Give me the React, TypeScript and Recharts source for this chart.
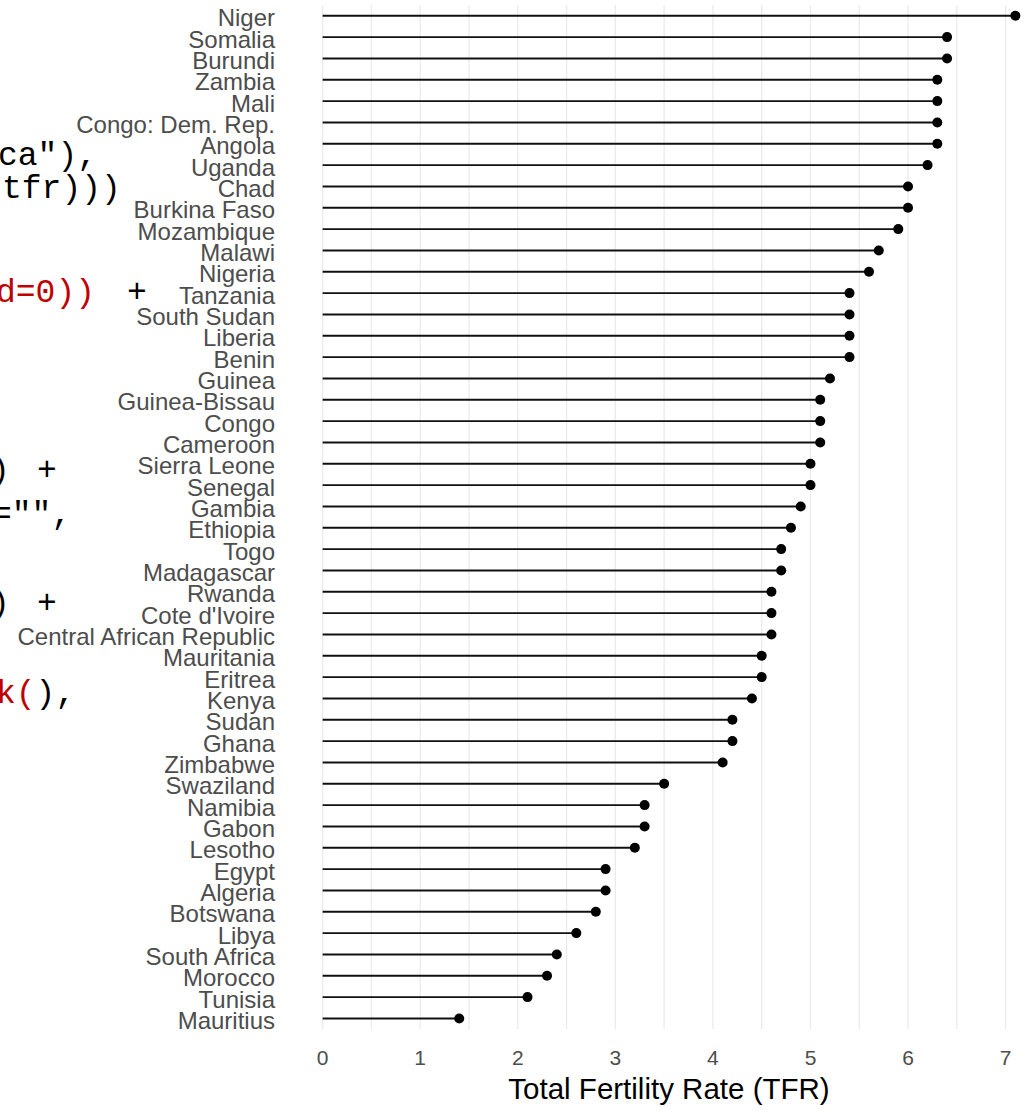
import React from "react";
import { BarChart, Bar, XAxis, YAxis, CartesianGrid, Label } from "recharts";

// countries, top to bottom
const countries = [
  "Niger", "Somalia", "Burundi", "Zambia", "Mali", "Congo: Dem. Rep.",
  "Angola", "Uganda", "Chad", "Burkina Faso", "Mozambique", "Malawi",
  "Nigeria", "Tanzania", "South Sudan", "Liberia", "Benin", "Guinea",
  "Guinea-Bissau", "Congo", "Cameroon", "Sierra Leone", "Senegal", "Gambia",
  "Ethiopia", "Togo", "Madagascar", "Rwanda", "Cote d'Ivoire",
  "Central African Republic", "Mauritania", "Eritrea", "Kenya", "Sudan",
  "Ghana", "Zimbabwe", "Swaziland", "Namibia", "Gabon", "Lesotho", "Egypt",
  "Algeria", "Botswana", "Libya", "South Africa", "Morocco", "Tunisia",
  "Mauritius",
];

const tfr = [
  7.1, 6.4, 6.4, 6.3, 6.3, 6.3,
  6.3, 6.2, 6.0, 6.0, 5.9, 5.7,
  5.6, 5.4, 5.4, 5.4, 5.4, 5.2,
  5.1, 5.1, 5.1, 5.0, 5.0, 4.9,
  4.8, 4.7, 4.7, 4.6, 4.6,
  4.6, 4.5, 4.5, 4.4, 4.2,
  4.2, 4.1, 3.5, 3.3, 3.3, 3.2, 2.9,
  2.9, 2.8, 2.6, 2.4, 2.3, 2.1,
  1.4,
];

// major + minor grid positions; only whole numbers get a label
const xTicks = [0, 0.5, 1, 1.5, 2, 2.5, 3, 3.5, 4, 4.5, 5, 5.5, 6, 6.5, 7];

const data = countries.map((country, i) => ({ country, tfr: tfr[i] }));

const Lollipop = (props: any) => {
  const { x, y, width, height } = props;
  const cy = y + height / 2;
  const end = x + width;
  return (
    <g>
      <line x1={x} y1={cy} x2={end} y2={cy} stroke="#111" strokeWidth={1.9} />
      <circle cx={end} cy={cy} r={5} fill="#000" />
    </g>
  );
};

const RED = "#c00000";

// bits of R code peeking in from the left edge of the screenshot
const CodeOverlay = () => (
  <svg
    width={160}
    height={760}
    style={{ position: "absolute", left: 0, top: 0 }}
    fontFamily="'Liberation Mono', 'Courier New', monospace"
    fontSize={33}
  >
    <text x={-2} y={165} fill="#000">ca"),</text>
    <text x={2} y={198} fill="#000">tfr)))</text>
    <text x={-4} y={302} fill={RED}>d=0))</text>
    <text x={127} y={302} fill="#000">+</text>
    <text x={-10} y={480} fill="#000">)</text>
    <text x={37} y={480} fill="#000">+</text>
    <text x={-8} y={524} fill="#000">="",</text>
    <text x={-10} y={613} fill="#000">)</text>
    <text x={37} y={613} fill="#000">+</text>
    <text x={-4} y={703}>
      <tspan fill={RED}>k(</tspan>
      <tspan fill="#000">),</tspan>
    </text>
  </svg>
);

export default function App() {
  return (
    <div
      style={{
        position: "absolute",
        left: 0,
        top: 0,
        width: 1036,
        height: 1110,
        overflow: "hidden",
        background: "#fff",
        fontFamily: "'Liberation Sans', Arial, sans-serif",
      }}
    >
      <BarChart
        layout="vertical"
        width={1050}
        height={1110}
        data={data}
        margin={{ top: 5, right: 0, bottom: 0, left: 0 }}
        barCategoryGap="20%"
      >
        <CartesianGrid
          horizontal={false}
          syncWithTicks
          stroke="#ebebeb"
          strokeWidth={1.3}
        />
        <XAxis
          type="number"
          dataKey="tfr"
          domain={[-0.355, 7.455]}
          ticks={xTicks}
          interval={0}
          tickFormatter={(v: number) => (Number.isInteger(v) ? String(v) : "")}
          axisLine={false}
          tickLine={false}
          tickSize={0}
          tickMargin={21}
          height={81}
          tick={{ fontSize: 21, fill: "#4d4d4d" }}
        >
          <Label
            value="Total Fertility Rate (TFR)"
            position="insideBottom"
            offset={11}
            style={{ fontSize: 29.5, fill: "#000" }}
          />
        </XAxis>
        <YAxis
          type="category"
          dataKey="country"
          width={288}
          interval={0}
          axisLine={false}
          tickLine={false}
          tickSize={0}
          tickMargin={13}
          tick={{ fontSize: 24, fill: "#4d4d4d", dy: 2 }}
        />
        <Bar dataKey="tfr" shape={<Lollipop />} isAnimationActive={false} />
      </BarChart>
      <CodeOverlay />
    </div>
  );
}
